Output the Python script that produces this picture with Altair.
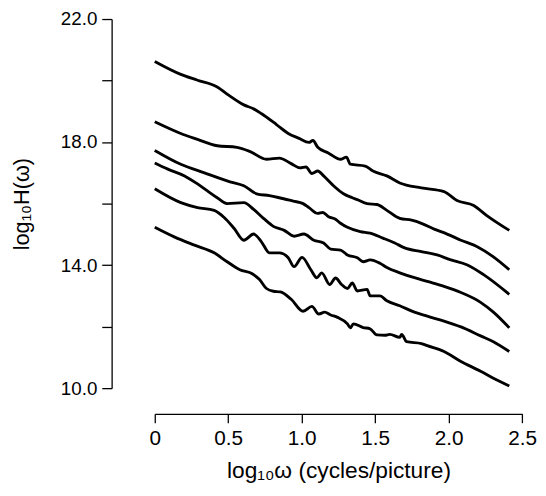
import altair as alt
import pandas as pd

# log10(omega) / log10(H) readings for the six spectra (top to bottom)
x1 = [0.00, 0.177, 0.291, 0.425, 0.492, 0.606, 0.673, 0.727, 0.828, 0.908, 0.982, 1.049, 1.076, 1.109,
      1.183, 1.264, 1.304, 1.331, 1.432, 1.485, 1.579, 1.667, 1.814, 1.968, 2.056, 2.170, 2.257, 2.412]
y1 = [20.62, 20.20, 20.01, 19.79, 19.56, 19.21, 19.08, 18.92, 18.57, 18.28, 18.12, 17.99, 18.05, 17.83,
      17.64, 17.44, 17.51, 17.28, 17.22, 17.06, 16.90, 16.67, 16.51, 16.39, 16.10, 15.94, 15.62, 15.13]

x2 = [0.00, 0.177, 0.291, 0.425, 0.559, 0.646, 0.760, 0.848, 0.928, 0.989, 1.029, 1.069, 1.109, 1.149,
      1.210, 1.284, 1.344, 1.378, 1.445, 1.512, 1.579, 1.667, 1.747, 1.814, 1.901, 1.989, 2.083, 2.197,
      2.304, 2.412]
y2 = [18.66, 18.28, 18.09, 17.88, 17.83, 17.70, 17.44, 17.48, 17.30, 17.16, 17.19, 16.98, 17.06, 16.90,
      16.61, 16.32, 16.19, 16.13, 16.00, 15.97, 15.78, 15.52, 15.46, 15.36, 15.17, 15.01, 14.81, 14.59,
      14.27, 13.85]

x3 = [0.00, 0.177, 0.338, 0.512, 0.606, 0.693, 0.780, 0.848, 0.942, 1.009, 1.049, 1.109, 1.143, 1.183,
      1.230, 1.264, 1.311, 1.398, 1.465, 1.552, 1.633, 1.700, 1.814, 1.921, 2.015, 2.123, 2.237, 2.412]
y3 = [17.73, 17.28, 17.00, 16.71, 16.58, 16.32, 16.26, 16.19, 16.08, 16.00, 15.87, 15.68, 15.71, 15.57,
      15.49, 15.36, 15.23, 15.09, 15.04, 14.88, 14.72, 14.56, 14.44, 14.33, 14.17, 14.01, 13.69, 13.05]

x4 = [0.00, 0.089, 0.203, 0.291, 0.356, 0.425, 0.492, 0.606, 0.673, 0.740, 0.807, 0.881, 0.948, 1.015,
      1.082, 1.149, 1.197, 1.264, 1.311, 1.378, 1.418, 1.465, 1.532, 1.579, 1.667, 1.767, 1.854, 1.968,
      2.083, 2.217, 2.304, 2.412]
y4 = [17.32, 17.12, 16.90, 16.64, 16.42, 16.19, 16.00, 16.03, 15.81, 15.52, 15.26, 15.13, 14.94, 15.01,
      14.81, 14.72, 14.52, 14.49, 14.33, 14.24, 14.11, 14.17, 14.06, 13.92, 13.75, 13.59, 13.47, 13.31,
      13.11, 12.79, 12.47, 11.96]

x5 = [0.00, 0.177, 0.291, 0.404, 0.472, 0.539, 0.606, 0.673, 0.727, 0.780, 0.848, 0.908, 0.948, 1.002,
      1.062, 1.103, 1.136, 1.190, 1.230, 1.271, 1.311, 1.344, 1.378, 1.445, 1.465, 1.532, 1.579, 1.667,
      1.767, 1.854, 1.968, 2.083, 2.217, 2.304, 2.412]
y5 = [16.48, 16.03, 15.87, 15.78, 15.55, 15.20, 14.81, 15.01, 14.75, 14.40, 14.40, 14.24, 13.95, 14.25,
      13.85, 13.59, 13.75, 13.37, 13.58, 13.37, 13.24, 13.42, 13.16, 13.21, 13.00, 13.00, 12.84, 12.68,
      12.47, 12.34, 12.18, 11.99, 11.70, 11.51, 11.19]

x6 = [0.00, 0.136, 0.270, 0.404, 0.492, 0.579, 0.666, 0.713, 0.760, 0.807, 0.854, 0.928, 1.009, 1.069,
      1.116, 1.156, 1.197, 1.244, 1.311, 1.331, 1.351, 1.418, 1.465, 1.512, 1.566, 1.599, 1.667, 1.680,
      1.714, 1.814, 1.854, 1.968, 2.083, 2.217, 2.304, 2.412]
y6 = [15.23, 14.91, 14.65, 14.40, 14.11, 13.85, 13.71, 13.53, 13.24, 13.15, 13.13, 12.89, 12.50, 12.66,
      12.41, 12.47, 12.38, 12.30, 12.09, 11.96, 12.09, 11.97, 11.93, 11.73, 11.72, 11.75, 11.65, 11.75,
      11.51, 11.45, 11.38, 11.19, 10.87, 10.55, 10.32, 10.07]

x_ticks = [0, 0.5, 1.0, 1.5, 2.0, 2.5]
y_ticks = [10, 12, 14, 16, 18, 20, 22]

series = [(x1, y1), (x2, y2), (x3, y3), (x4, y4), (x5, y5), (x6, y6)]
rows = []
for i, (xs, ys) in enumerate(series):
    for j, (a, b) in enumerate(zip(xs, ys)):
        rows.append({"s": i, "o": j, "x": a, "y": b})
df = pd.DataFrame(rows)

FONT = "Liberation Sans"

chart = alt.Chart(df).mark_line(
    color="black", strokeWidth=2.9, interpolate="monotone"
).encode(
    x=alt.X("x:Q",
            scale=alt.Scale(domain=[0, 2.5], nice=False),
            axis=alt.Axis(values=x_ticks,
                          labelExpr="datum.value == 0 ? '0' : format(datum.value, '.1f')",
                          offset=26, tickSize=9, labelPadding=5,
                          labelFontSize=21, labelFlush=False, labelOverlap=False,
                          title="log₁₀ω (cycles/picture)", titleFontSize=23,
                          titleFontWeight="normal", titlePadding=12,
                          grid=False)),
    y=alt.Y("y:Q",
            scale=alt.Scale(domain=[10, 22], nice=False, zero=False),
            axis=alt.Axis(values=y_ticks,
                          labelExpr="datum.value % 4 == 0 ? '' : format(datum.value, '.1f')",
                          offset=43.7, tickSize=10, labelPadding=5,
                          labelFontSize=19, labelFlush=False, labelOverlap=False,
                          title="log₁₀H(ω)", titleFontSize=22,
                          titleFontWeight="normal", titlePadding=27,
                          grid=False)),
    detail="s:N",
    order="o:Q",
).properties(
    width=372.3, height=374,
    autosize=alt.AutoSizeParams(type="none"),
    padding={"left": 148.7, "top": 8, "right": 16, "bottom": 100},
).configure_view(
    strokeWidth=0
).configure_axis(
    domainColor="black", tickColor="black", labelColor="black", titleColor="black",
    domainWidth=1.3, tickWidth=1.3, labelFont=FONT, titleFont=FONT
)

chart.save("out.html", embed_options={"renderer": "svg", "actions": False})
